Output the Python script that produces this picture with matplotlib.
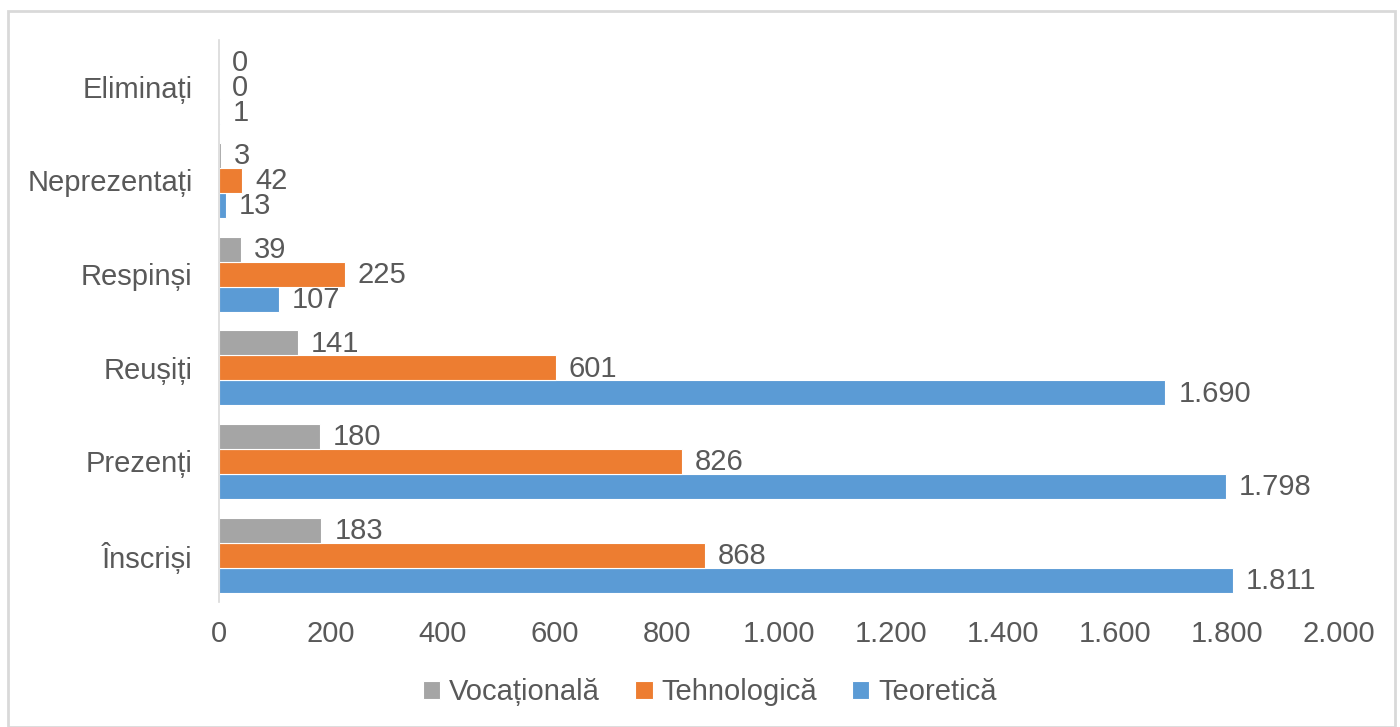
import matplotlib.pyplot as plt
from matplotlib.patches import Rectangle
from matplotlib.ticker import FuncFormatter, MultipleLocator
import numpy as np

plt.rcParams['font.family'] = ['Liberation Sans', 'DejaVu Sans']

# categories from bottom to top
categories = ["Înscriși", "Prezenți", "Reușiți", "Respinși", "Neprezentați", "Eliminați"]
vocationala = [183, 180, 141, 39, 3, 0]
tehnologica = [868, 826, 601, 225, 42, 0]
teoretica = [1811, 1798, 1690, 107, 13, 1]

text_color = "#595959"


def fmt(v):
    return f"{v:,.0f}".replace(",", ".")


fig = plt.figure(figsize=(14, 7.27), dpi=100)
ax = fig.add_axes([0.1564, 0.172, 0.8, 0.773])

# light frame around the chart
fig.patches.append(Rectangle((8 / 1400, 0), 1387 / 1400, 1 - 11 / 727,
                             transform=fig.transFigure, fill=False,
                             edgecolor="#d9d9d9", linewidth=2))

y = np.arange(len(categories))
h = 0.267
series = [
    ("Teoretică", teoretica, "#5B9BD5", -h),
    ("Tehnologică", tehnologica, "#ED7D31", 0),
    ("Vocațională", vocationala, "#A5A5A5", h),
]
bars = {}
for name, vals, color, off in series:
    b = ax.barh(y + off, vals, height=h, color=color, edgecolor="white",
                linewidth=0.8, label=name)
    bars[name] = b
    for yi, v in zip(y + off, vals):
        ax.annotate(fmt(v), (v, yi), xytext=(13, -1), textcoords="offset pixels",
                    ha="left", va="center", fontsize=21, color=text_color)

ax.set_xlim(0, 2000)
ax.set_ylim(-0.5, len(categories) - 0.5)
ax.xaxis.set_major_locator(MultipleLocator(200))
ax.xaxis.set_major_formatter(FuncFormatter(lambda v, p: fmt(v)))
ax.set_yticks(y)
ax.set_yticklabels(categories)
ax.tick_params(axis="both", length=0, labelsize=21, colors=text_color)
ax.tick_params(axis="x", pad=13)
ax.tick_params(axis="y", pad=19)

for s in ["top", "right", "bottom"]:
    ax.spines[s].set_visible(False)
ax.spines["left"].set_color("#d9d9d9")
ax.spines["left"].set_linewidth(1.2)

handles = [bars["Vocațională"], bars["Tehnologică"], bars["Teoretică"]]
fig.legend(handles, [h_.get_label() for h_ in handles], loc="center",
           bbox_to_anchor=(0.507, 0.048), ncol=3, frameon=False,
           fontsize=21, labelcolor=text_color, handlelength=0.6,
           handleheight=0.6, handletextpad=0.3, columnspacing=1.2)

plt.savefig("out.png", dpi=100)
plt.close()
